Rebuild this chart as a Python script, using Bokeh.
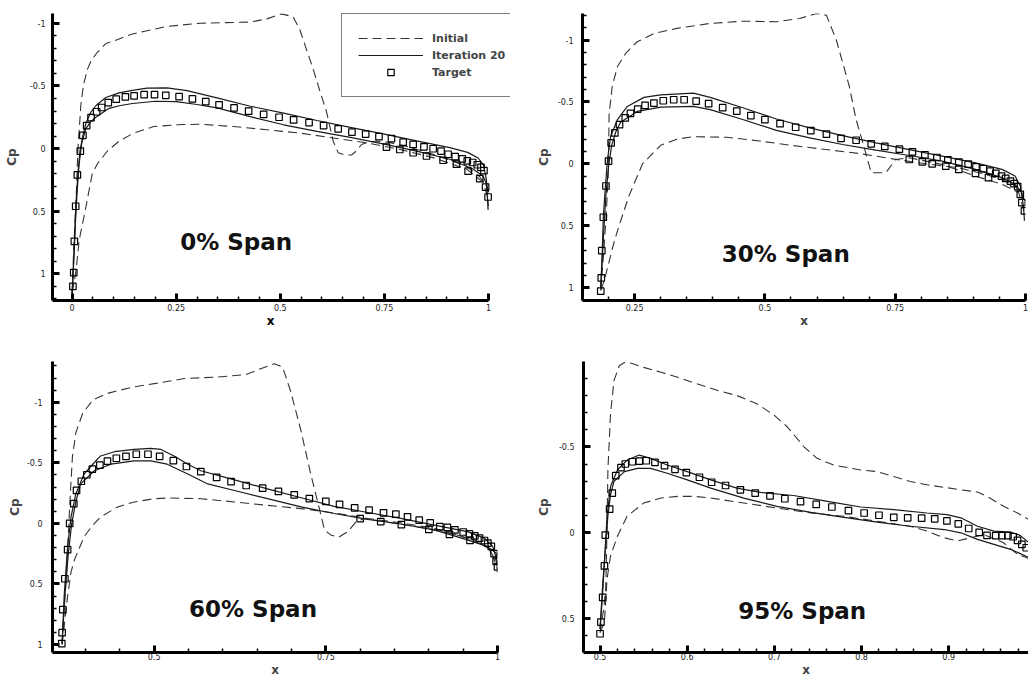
import numpy as np
from bokeh.plotting import figure
from bokeh.models import Range1d, FixedTicker, Label, Legend, LegendItem, LinearAxis
from bokeh.layouts import column, row
from bokeh.embed import file_html
from bokeh.resources import INLINE

# ======================= DATA =======================
# ---- Panel 1 : 0% span ----
p1_init_up_x = [0.0, 0.004, 0.008, 0.011, 0.0135, 0.016, 0.018, 0.021, 0.025, 0.029, 0.037, 0.047, 0.06, 0.081, 0.108, 0.145, 0.172, 0.228, 0.308, 0.428, 0.468, 0.503, 0.531, 0.547, 0.563, 0.579, 0.595, 0.611, 0.627, 0.639, 0.655, 0.671, 0.684, 0.695, 0.707, 0.73, 0.76, 0.8, 0.867, 0.947, 0.979, 0.995, 1.0]
p1_init_up_cp = [1.15, 0.8, 0.5, 0.3, 0.04, -0.1, -0.19, -0.346, -0.45, -0.53, -0.634, -0.71, -0.765, -0.838, -0.869, -0.915, -0.935, -0.975, -1.0, -1.01, -1.035, -1.075, -1.052, -0.948, -0.79, -0.634, -0.46, -0.294, -0.059, 0.033, 0.05, 0.051, 0.015, -0.033, -0.046, -0.06, -0.05, -0.02, 0.045, 0.14, 0.225, 0.30, 0.46]
p1_init_lo_x = [0.0, 0.006, 0.01, 0.017, 0.025, 0.033, 0.041, 0.0485, 0.061, 0.085, 0.113, 0.148, 0.196, 0.252, 0.308, 0.388, 0.468, 0.547, 0.627, 0.707, 0.787, 0.867, 0.947, 0.987, 1.0]
p1_init_lo_cp = [1.15, 1.05, 0.96, 0.73, 0.6, 0.47, 0.33, 0.2, 0.12, 0.019, -0.06, -0.124, -0.176, -0.19, -0.195, -0.176, -0.15, -0.124, -0.085, -0.046, 0.007, 0.072, 0.163, 0.268, 0.41]
p1_iter_up_x = [0.0, 0.003, 0.006, 0.009, 0.014, 0.019, 0.025, 0.033, 0.045, 0.057, 0.081, 0.113, 0.145, 0.18, 0.228, 0.276, 0.348, 0.428, 0.508, 0.588, 0.668, 0.747, 0.827, 0.907, 0.95, 0.975, 0.988, 0.995, 0.999]
p1_iter_up_cp = [1.18, 0.95, 0.72, 0.46, 0.2, 0.02, -0.09, -0.2, -0.29, -0.342, -0.408, -0.445, -0.465, -0.482, -0.485, -0.462, -0.405, -0.338, -0.283, -0.224, -0.17, -0.118, -0.062, -0.008, 0.03, 0.075, 0.13, 0.25, 0.49]
p1_iter_lo_x = [0.0, 0.004, 0.008, 0.012, 0.017, 0.023, 0.033, 0.045, 0.057, 0.089, 0.113, 0.145, 0.2, 0.25, 0.3, 0.348, 0.428, 0.508, 0.588, 0.668, 0.747, 0.827, 0.907, 0.963, 0.987, 0.995, 1.0]
p1_iter_lo_cp = [1.18, 0.9, 0.6, 0.35, 0.12, -0.04, -0.159, -0.215, -0.25, -0.321, -0.342, -0.36, -0.378, -0.375, -0.352, -0.325, -0.255, -0.19, -0.137, -0.09, -0.038, 0.02, 0.085, 0.163, 0.22, 0.28, 0.35]
p1_target_x = [0.002, 0.004, 0.0055, 0.0087, 0.0127, 0.0198, 0.026, 0.035, 0.0455, 0.059, 0.071, 0.087, 0.106, 0.128, 0.149, 0.173, 0.198, 0.225, 0.257, 0.289, 0.321, 0.353, 0.389, 0.424, 0.46, 0.497, 0.532, 0.569, 0.604, 0.639, 0.672, 0.705, 0.737, 0.767, 0.795, 0.819, 0.845, 0.867, 0.886, 0.903, 0.920, 0.937, 0.949, 0.962, 0.973, 0.982, 0.989, 0.993, 0.999]
p1_target_cp = [1.10, 0.99, 0.74, 0.46, 0.21, 0.02, -0.106, -0.184, -0.247, -0.294, -0.328, -0.367, -0.394, -0.412, -0.42, -0.43, -0.43, -0.425, -0.414, -0.396, -0.375, -0.349, -0.325, -0.299, -0.273, -0.25, -0.229, -0.208, -0.184, -0.158, -0.132, -0.116, -0.095, -0.08, -0.051, -0.033, -0.014, 0.001, 0.02, 0.045, 0.064, 0.082, 0.098, 0.111, 0.129, 0.15, 0.176, 0.307, 0.386]
p1_target_lo_x = [0.755, 0.787, 0.819, 0.851, 0.891, 0.923, 0.951, 0.979]
p1_target_lo_cp = [-0.012, 0.007, 0.033, 0.059, 0.093, 0.124, 0.18, 0.24]

# ---- Panel 2 : 30% span ----
p2_init_up_x = [0.185, 0.19, 0.195, 0.199, 0.2, 0.201, 0.207, 0.217, 0.233, 0.255, 0.287, 0.331, 0.395, 0.459, 0.522, 0.567, 0.599, 0.618, 0.637, 0.662, 0.675, 0.688, 0.704, 0.732, 0.751, 0.777, 0.84, 0.904, 0.955, 0.987, 0.998]
p2_init_up_cp = [1.02, 0.75, 0.45, 0.12, -0.04, -0.4, -0.625, -0.786, -0.893, -0.986, -1.053, -1.094, -1.134, -1.152, -1.147, -1.174, -1.214, -1.2, -1.0, -0.625, -0.357, -0.17, 0.071, 0.071, -0.036, -0.05, 0.004, 0.098, 0.165, 0.232, 0.392]
p2_init_lo_x = [0.185, 0.191, 0.201, 0.21, 0.22, 0.239, 0.265, 0.3, 0.331, 0.363, 0.427, 0.49, 0.554, 0.618, 0.681, 0.745, 0.809, 0.872, 0.923, 0.955, 0.98, 0.993, 1.0]
p2_init_lo_cp = [1.02, 0.95, 0.79, 0.64, 0.5, 0.26, 0.0, -0.15, -0.2, -0.22, -0.215, -0.185, -0.148, -0.116, -0.084, -0.041, -0.001, 0.031, 0.084, 0.125, 0.178, 0.259, 0.3]
p2_iter_up_x = [0.185, 0.188, 0.19, 0.194, 0.198, 0.204, 0.217, 0.236, 0.268, 0.3, 0.363, 0.395, 0.459, 0.522, 0.586, 0.649, 0.713, 0.777, 0.84, 0.904, 0.955, 0.98, 0.99, 0.996, 0.998]
p2_iter_up_cp = [1.0, 0.7, 0.42, 0.18, -0.036, -0.224, -0.357, -0.464, -0.537, -0.558, -0.571, -0.537, -0.451, -0.363, -0.291, -0.229, -0.17, -0.116, -0.063, -0.009, 0.044, 0.098, 0.178, 0.339, 0.459]
p2_iter_lo_x = [0.185, 0.19, 0.195, 0.2, 0.206, 0.214, 0.223, 0.255, 0.3, 0.363, 0.395, 0.459, 0.522, 0.586, 0.649, 0.713, 0.777, 0.84, 0.904, 0.955, 0.98, 0.993, 0.996]
p2_iter_lo_cp = [1.0, 0.6, 0.25, 0.02, -0.15, -0.26, -0.336, -0.424, -0.459, -0.465, -0.438, -0.357, -0.271, -0.21, -0.157, -0.111, -0.068, -0.023, 0.044, 0.111, 0.165, 0.232, 0.285]
p2_target_x = [0.185, 0.186, 0.187, 0.19, 0.195, 0.2, 0.205, 0.212, 0.221, 0.232, 0.242, 0.256, 0.27, 0.287, 0.305, 0.325, 0.345, 0.368, 0.392, 0.419, 0.446, 0.473, 0.5, 0.529, 0.559, 0.588, 0.618, 0.646, 0.675, 0.704, 0.73, 0.758, 0.783, 0.807, 0.83, 0.851, 0.872, 0.89, 0.905, 0.919, 0.932, 0.943, 0.954, 0.962, 0.971, 0.978, 0.985, 0.99, 0.993, 0.998]
p2_target_cp = [1.027, 0.92, 0.70, 0.43, 0.178, -0.023, -0.17, -0.25, -0.317, -0.371, -0.408, -0.443, -0.473, -0.491, -0.51, -0.518, -0.518, -0.507, -0.486, -0.454, -0.427, -0.39, -0.357, -0.325, -0.296, -0.269, -0.24, -0.207, -0.191, -0.162, -0.141, -0.119, -0.098, -0.074, -0.052, -0.033, -0.015, 0.001, 0.023, 0.039, 0.058, 0.076, 0.098, 0.117, 0.138, 0.159, 0.183, 0.245, 0.312, 0.379]
p2_target_lo_x = [0.777, 0.802, 0.821, 0.847, 0.872, 0.904, 0.929]
p2_target_lo_cp = [-0.036, -0.017, -0.001, 0.017, 0.044, 0.076, 0.111]

# ---- Panel 3 : 60% span ----
p3_init_up_x = [0.366, 0.369, 0.372, 0.375, 0.378, 0.381, 0.386, 0.396, 0.411, 0.43, 0.45, 0.471, 0.51, 0.544, 0.592, 0.633, 0.655, 0.675, 0.687, 0.699, 0.714, 0.728, 0.74, 0.748, 0.757, 0.769, 0.782, 0.794, 0.806, 0.835, 0.883, 0.932, 0.966, 0.99, 1.0]
p3_init_up_cp = [1.0, 0.7, 0.45, 0.1, -0.25, -0.55, -0.75, -0.91, -1.02, -1.07, -1.1, -1.128, -1.163, -1.196, -1.209, -1.228, -1.277, -1.318, -1.291, -1.087, -0.761, -0.408, -0.136, 0.054, 0.095, 0.114, 0.068, -0.014, -0.041, -0.014, 0.027, 0.082, 0.136, 0.217, 0.38]
p3_init_lo_x = [0.366, 0.374, 0.379, 0.384, 0.398, 0.41, 0.422, 0.447, 0.471, 0.5, 0.52, 0.568, 0.617, 0.665, 0.714, 0.762, 0.811, 0.859, 0.908, 0.956, 0.985, 1.0]
p3_init_lo_cp = [1.0, 0.6, 0.4, 0.3, 0.11, 0.02, -0.054, -0.136, -0.177, -0.204, -0.21, -0.204, -0.177, -0.149, -0.122, -0.087, -0.041, -0.005, 0.041, 0.122, 0.19, 0.326]
p3_iter_up_x = [0.366, 0.369, 0.374, 0.379, 0.386, 0.398, 0.413, 0.422, 0.442, 0.471, 0.495, 0.51, 0.529, 0.549, 0.568, 0.617, 0.665, 0.714, 0.762, 0.811, 0.859, 0.908, 0.956, 0.981, 0.993, 1.0]
p3_iter_up_cp = [0.99, 0.598, 0.19, -0.054, -0.245, -0.408, -0.503, -0.557, -0.592, -0.611, -0.62, -0.611, -0.557, -0.489, -0.435, -0.359, -0.285, -0.212, -0.141, -0.09, -0.041, 0.014, 0.068, 0.122, 0.19, 0.326]
p3_iter_lo_x = [0.366, 0.37, 0.375, 0.38, 0.386, 0.393, 0.413, 0.437, 0.471, 0.495, 0.519, 0.549, 0.578, 0.617, 0.665, 0.714, 0.762, 0.811, 0.859, 0.908, 0.956, 0.985, 0.998, 1.0]
p3_iter_lo_cp = [0.99, 0.6, 0.25, 0.0, -0.18, -0.326, -0.435, -0.489, -0.516, -0.516, -0.489, -0.408, -0.326, -0.272, -0.204, -0.136, -0.082, -0.033, 0.005, 0.054, 0.136, 0.19, 0.245, 0.408]
p3_target_x = [0.3655, 0.366, 0.367, 0.37, 0.374, 0.377, 0.383, 0.387, 0.394, 0.402, 0.41, 0.421, 0.432, 0.445, 0.459, 0.474, 0.491, 0.508, 0.528, 0.547, 0.568, 0.591, 0.612, 0.634, 0.658, 0.681, 0.704, 0.726, 0.75, 0.77, 0.792, 0.813, 0.834, 0.852, 0.869, 0.886, 0.902, 0.916, 0.927, 0.938, 0.95, 0.959, 0.967, 0.974, 0.981, 0.986, 0.991, 0.995, 0.998, 1.0]
p3_target_cp = [0.992, 0.902, 0.712, 0.457, 0.217, 0.0, -0.163, -0.272, -0.348, -0.402, -0.448, -0.481, -0.514, -0.538, -0.554, -0.571, -0.571, -0.554, -0.519, -0.47, -0.427, -0.38, -0.345, -0.313, -0.291, -0.264, -0.236, -0.204, -0.182, -0.158, -0.128, -0.109, -0.087, -0.076, -0.054, -0.027, -0.005, 0.027, 0.033, 0.054, 0.071, 0.087, 0.103, 0.122, 0.141, 0.163, 0.19, 0.25, 0.313, 0.359]
p3_target_lo_x = [0.8, 0.83, 0.86, 0.9, 0.93, 0.96]
p3_target_lo_cp = [-0.04, -0.015, 0.01, 0.05, 0.09, 0.14]

# ---- Panel 4 : 95% span ----
p4_init_up_x = [0.5, 0.504, 0.5065, 0.508, 0.509, 0.512, 0.516, 0.522, 0.528, 0.535, 0.55, 0.57, 0.589, 0.612, 0.635, 0.657, 0.68, 0.7, 0.715, 0.734, 0.749, 0.768, 0.799, 0.818, 0.837, 0.856, 0.875, 0.894, 0.914, 0.933, 0.944, 0.963, 0.979, 0.992]
p4_init_up_cp = [0.58, 0.45, 0.327, -0.019, -0.365, -0.692, -0.885, -0.971, -0.99, -0.987, -0.962, -0.933, -0.904, -0.865, -0.827, -0.798, -0.75, -0.683, -0.615, -0.5, -0.433, -0.394, -0.365, -0.356, -0.327, -0.298, -0.279, -0.265, -0.25, -0.237, -0.212, -0.154, -0.115, -0.077]
p4_init_lo_x = [0.5, 0.505, 0.508, 0.512, 0.52, 0.531, 0.55, 0.57, 0.589, 0.608, 0.627, 0.665, 0.703, 0.742, 0.78, 0.818, 0.856, 0.875, 0.895, 0.91, 0.925, 0.94, 0.963, 0.979, 0.992]
p4_init_lo_cp = [0.58, 0.519, 0.269, 0.135, 0.019, -0.096, -0.173, -0.202, -0.212, -0.212, -0.202, -0.173, -0.144, -0.115, -0.096, -0.067, -0.038, -0.01, 0.029, 0.048, 0.029, 0.01, 0.058, 0.125, 0.15]
p4_iter_up_x = [0.5, 0.503, 0.505, 0.508, 0.512, 0.52, 0.531, 0.545, 0.558, 0.577, 0.6, 0.627, 0.657, 0.684, 0.722, 0.761, 0.799, 0.837, 0.875, 0.898, 0.914, 0.933, 0.952, 0.971, 0.982, 0.992]
p4_iter_up_cp = [0.56, 0.35, 0.173, -0.096, -0.269, -0.365, -0.423, -0.452, -0.433, -0.394, -0.356, -0.308, -0.26, -0.235, -0.217, -0.183, -0.15, -0.135, -0.115, -0.106, -0.087, -0.038, -0.01, -0.004, 0.015, 0.058]
p4_iter_lo_x = [0.5, 0.503, 0.506, 0.509, 0.512, 0.516, 0.528, 0.543, 0.558, 0.577, 0.6, 0.627, 0.665, 0.703, 0.742, 0.78, 0.818, 0.856, 0.895, 0.914, 0.933, 0.952, 0.971, 0.992]
p4_iter_lo_cp = [0.56, 0.3, 0.1, -0.1, -0.22, -0.3, -0.356, -0.375, -0.375, -0.346, -0.308, -0.26, -0.202, -0.154, -0.119, -0.09, -0.062, -0.038, -0.019, 0.0, 0.038, 0.067, 0.096, 0.144]
p4_target_x = [0.5, 0.501, 0.503, 0.505, 0.506, 0.511, 0.514, 0.518, 0.524, 0.529, 0.537, 0.545, 0.553, 0.563, 0.574, 0.586, 0.599, 0.614, 0.628, 0.644, 0.661, 0.678, 0.695, 0.712, 0.73, 0.748, 0.766, 0.785, 0.803, 0.82, 0.837, 0.853, 0.869, 0.884, 0.898, 0.911, 0.923, 0.935, 0.944, 0.954, 0.961, 0.968, 0.974, 0.979, 0.984, 0.989]
p4_target_cp = [0.587, 0.519, 0.375, 0.192, 0.013, -0.138, -0.231, -0.333, -0.379, -0.4, -0.413, -0.417, -0.419, -0.41, -0.39, -0.369, -0.35, -0.323, -0.294, -0.275, -0.25, -0.231, -0.215, -0.198, -0.181, -0.165, -0.15, -0.129, -0.115, -0.102, -0.09, -0.087, -0.085, -0.081, -0.069, -0.052, -0.025, -0.002, 0.015, 0.017, 0.017, 0.017, 0.023, 0.044, 0.067, 0.087]
p4_target_lo_x = []
p4_target_lo_cp = []

# ---- tick values and tick labels ----
p1_x_ticks = [0, 0.25, 0.5, 0.75, 1]
p1_x_tick_labels = ["0", "0.25", "0.5", "0.75", "1"]
p2_x_ticks = [0.25, 0.5, 0.75, 1]
p2_x_tick_labels = ["0.25", "0.5", "0.75", "1"]
p3_x_ticks = [0.5, 0.75, 1]
p3_x_tick_labels = ["0.5", "0.75", "1"]
p4_x_ticks = [0.5, 0.6, 0.7, 0.8, 0.9]
p4_x_tick_labels = ["0.5", "0.6", "0.7", "0.8", "0.9"]
cp_ticks = [-1, -0.5, 0, 0.5, 1]
cp_tick_labels = ["-1", "-0.5", "0", "0.5", "1"]
p4_cp_ticks = [-0.5, 0, 0.5]
p4_cp_tick_labels = ["-0.5", "0", "0.5"]

x_title = "x"
y_title = "Cp"
span_titles = ["0% Span", "30% Span", "60% Span", "95% Span"]
legend_labels = ["Initial", "Iteration 20", "Target"]

# ======================= STYLE =======================
FONT = "DejaVu Sans"
DASH = "9 5"
LINE_COLOR = "#1a1a1a"
DASH_COLOR = "#333333"


def make_panel(width, height, borders, xr, yr, xt, xtl, xminor, yt, ytl, yminor,
               curves, title, title_pos, ylab_std, ylab_axstd, xlab_std, xlab_axstd,
               xbounds="auto", legend=None, xtitle_at=None):
    left, right, top, bottom = borders
    p = figure(width=width, height=height, output_backend="svg", toolbar_location=None,
               x_range=Range1d(*xr), y_range=Range1d(*yr),
               min_border_left=left, min_border_right=right,
               min_border_top=top, min_border_bottom=bottom)
    p.grid.visible = False
    p.outline_line_color = None
    p.background_fill_color = "white"
    p.border_fill_color = "white"

    xa = p.xaxis[0]
    ya = p.yaxis[0]
    xa.ticker = FixedTicker(ticks=xt, minor_ticks=xminor)
    ya.ticker = FixedTicker(ticks=yt, minor_ticks=yminor)
    xa.major_label_overrides = {float(k): v for k, v in zip(xt, xtl)}
    ya.major_label_overrides = {float(k): v for k, v in zip(yt, ytl)}
    xa.bounds = xbounds
    ya.axis_label = y_title
    for ax in (xa, ya):
        ax.axis_line_width = 3
        ax.axis_line_color = "black"
        ax.major_tick_in = 7
        ax.major_tick_out = 0
        ax.major_tick_line_width = 3
        ax.minor_tick_in = 4
        ax.minor_tick_out = 0
        ax.minor_tick_line_width = 1.5
        ax.major_label_text_font = FONT
        ax.major_label_text_font_size = "8px"
        ax.major_label_text_color = "#222222"
        ax.axis_label_text_font = FONT
        ax.axis_label_text_font_style = "bold"
        ax.axis_label_text_font_size = "12px"
    ya.major_label_standoff = ylab_std
    ya.axis_label_standoff = ylab_axstd
    xa.major_label_standoff = xlab_std
    xa.axis_label_standoff = xlab_axstd

    if xtitle_at is None:
        xa.axis_label = x_title
    else:
        # the x title sits under the drawn part of the axis, not under the whole frame
        xt_axis = LinearAxis(ticker=FixedTicker(ticks=[xtitle_at], minor_ticks=[]),
                             major_label_overrides={float(xtitle_at): x_title},
                             axis_line_color=None, major_tick_line_color=None,
                             minor_tick_line_color=None,
                             major_tick_in=0, major_tick_out=0,
                             minor_tick_in=0, minor_tick_out=0,
                             axis_label_standoff=0, major_label_standoff=0,
                             major_label_text_font=FONT, major_label_text_font_style="bold",
                             major_label_text_font_size="12px",
                             major_label_text_color="black")
        p.add_layout(xt_axis, "below")

    (iu_x, iu_y, il_x, il_y, tu_x, tu_y, tl_x, tl_y, gu_x, gu_y, gl_x, gl_y) = curves
    r_init = p.line(iu_x, iu_y, line_color=DASH_COLOR, line_width=1.1, line_dash=DASH)
    p.line(il_x, il_y, line_color=DASH_COLOR, line_width=1.1, line_dash=DASH)
    r_iter = p.line(tu_x, tu_y, line_color=LINE_COLOR, line_width=1.2)
    p.line(tl_x, tl_y, line_color=LINE_COLOR, line_width=1.2)
    r_tgt = p.scatter(gu_x, gu_y, marker="square", size=6.5, fill_color=None,
                      line_color="black", line_width=1.2)
    if len(gl_x):
        p.scatter(gl_x, gl_y, marker="square", size=6.5, fill_color=None,
                  line_color="black", line_width=1.2)

    p.add_layout(Label(x=title_pos[0], y=title_pos[1], text=title, text_align="center",
                       text_baseline="middle", text_font=FONT, text_font_style="bold",
                       text_font_size="23px", text_color="#111111"))

    if legend is not None:
        leg = Legend(items=[LegendItem(label=legend[0], renderers=[r_init]),
                            LegendItem(label=legend[1], renderers=[r_iter]),
                            LegendItem(label=legend[2], renderers=[r_tgt])],
                     location=(289, 203))
        leg.border_line_color = "black"
        leg.border_line_width = 1
        leg.background_fill_color = "white"
        leg.background_fill_alpha = 1
        leg.label_text_font = FONT
        leg.label_text_font_style = "bold"
        leg.label_text_font_size = "11px"
        leg.glyph_width = 65
        leg.glyph_height = 16
        leg.label_height = 16
        leg.spacing = 1
        leg.padding = 16
        leg.margin = 0
        leg.label_standoff = 9
        p.add_layout(leg)
    return p


def minor(a, b, step):
    return [round(v, 4) for v in np.arange(a, b + 1e-9, step)]


fig1 = make_panel(510, 330, (52, 0, 10, 28), (-0.047, 1.0528), (1.212, -1.078),
                  p1_x_ticks, p1_x_tick_labels, minor(0, 1, 0.05),
                  cp_ticks, cp_tick_labels, minor(-1.0, 1.2, 0.1),
                  (p1_init_up_x, p1_init_up_cp, p1_init_lo_x, p1_init_lo_cp,
                   p1_iter_up_x, p1_iter_up_cp, p1_iter_lo_x, p1_iter_lo_cp,
                   p1_target_x, p1_target_cp, p1_target_lo_x, p1_target_lo_cp),
                  span_titles[0], (0.394, 0.749), 7, 8, 3, 0,
                  xbounds=(-0.047, 1.0), legend=legend_labels, xtitle_at=0.4765)

fig2 = make_panel(518, 330, (72, 3, 13, 28), (0.15, 1.0), (1.102, -1.214),
                  p2_x_ticks, p2_x_tick_labels, minor(0.15, 1, 0.05),
                  cp_ticks, cp_tick_labels, minor(-1.2, 1.1, 0.1),
                  (p2_init_up_x, p2_init_up_cp, p2_init_lo_x, p2_init_lo_cp,
                   p2_iter_up_x, p2_iter_up_cp, p2_iter_lo_x, p2_iter_lo_cp,
                   p2_target_x, p2_target_cp, p2_target_lo_x, p2_target_lo_cp),
                  span_titles[1], (0.54, 0.727), 9, 4, 3, 0)

fig3 = make_panel(510, 349, (52, 13, 29, 25), (0.352, 1.0), (1.066, -1.337),
                  p3_x_ticks, p3_x_tick_labels, minor(0.35, 1, 0.05),
                  cp_ticks, cp_tick_labels, minor(-1.3, 1.0, 0.1),
                  (p3_init_up_x, p3_init_up_cp, p3_init_lo_x, p3_init_lo_cp,
                   p3_iter_up_x, p3_iter_up_cp, p3_iter_lo_x, p3_iter_lo_cp,
                   p3_target_x, p3_target_cp, p3_target_lo_x, p3_target_lo_cp),
                  span_titles[2], (0.644, 0.707), 10, 2, 0, 0)

fig4 = make_panel(518, 349, (73, 0, 31, 25), (0.481, 0.9916), (0.696, -0.996),
                  p4_x_ticks, p4_x_tick_labels, minor(0.48, 0.99, 0.02),
                  p4_cp_ticks, p4_cp_tick_labels, minor(-1.0, 0.6, 0.1),
                  (p4_init_up_x, p4_init_up_cp, p4_init_lo_x, p4_init_lo_cp,
                   p4_iter_up_x, p4_iter_up_cp, p4_iter_lo_x, p4_iter_lo_cp,
                   p4_target_x, p4_target_cp, p4_target_lo_x, p4_target_lo_cp),
                  span_titles[3], (0.732, 0.454), 9, 5, 0, 0)

layout = column(row(fig1, fig2), row(fig3, fig4))
open("out.html", "w").write(file_html(layout, INLINE))
